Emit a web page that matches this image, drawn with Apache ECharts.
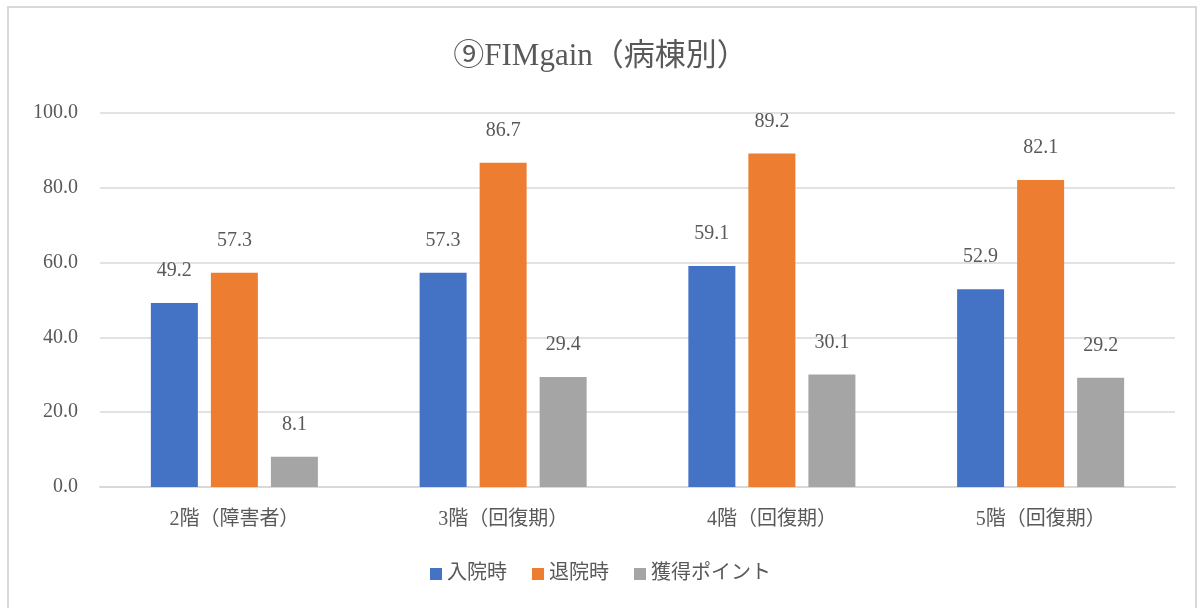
<!DOCTYPE html>
<html>
<head>
<meta charset="utf-8">
<script src="https://cdn.jsdelivr.net/npm/echarts@6/dist/echarts.min.js"></script>
<style>
	html, body { margin: 0; padding: 0; background: #fff; overflow: hidden; }
	#frame {
		position: absolute; left: 7px; top: 6px; width: 1190px; height: 620px;
		border: 2px solid #d9d9d9; box-sizing: border-box;
	}
	#main { position: absolute; left: 0; top: 0; width: 1201px; height: 608px; }
</style>
</head>
<body>
<div id="frame"></div>
<div id="main"></div>
<script>
	var categories = ["2階（障害者）", "3階（回復期）", "4階（回復期）", "5階（回復期）"];
	var admission = [49.2, 57.3, 59.1, 52.9];
	var discharge = [57.3, 86.7, 89.2, 82.1];
	var gain = [8.1, 29.4, 30.1, 29.2];
	var seriesNames = ["入院時", "退院時", "獲得ポイント"];

	var font = '"Liberation Serif", "Noto Sans CJK JP", serif';
	var textColor = "#595959";

	var chart = echarts.init(document.getElementById("main"));

	var labelStyle = {
		show: true,
		position: "top",
		distance: 22,
		color: textColor,
		fontFamily: font,
		fontSize: 20,
		formatter: function (p) {
			return p.value.toFixed(1);
		}
	};

	function makeSeries(name, data, color) {
		return {
			name: name,
			type: "bar",
			barWidth: 47,
			barGap: "27.7%",
			itemStyle: { color: color },
			label: labelStyle,
			data: data
		};
	}

	var option = {
		animation: false,
		title: {
			text: "⑨FIMgain（病棟別）",
			left: "center",
			top: 36,
			textStyle: {
				color: textColor,
				fontFamily: font,
				fontSize: 31,
				fontWeight: "normal"
			}
		},
		legend: {
			bottom: 19,
			left: "center",
			itemWidth: 12,
			itemHeight: 12,
			itemGap: 25,
			icon: "rect",
			textStyle: {
				color: textColor,
				fontFamily: font,
				fontSize: 20
			},
			data: seriesNames
		},
		grid: {
			left: 100,
			right: 26,
			top: 113,
			bottom: 121
		},
		xAxis: {
			type: "category",
			data: categories,
			axisLine: { lineStyle: { color: "#d9d9d9", width: 2 } },
			axisTick: { show: false },
			axisLabel: {
				color: textColor,
				fontFamily: font,
				fontSize: 20,
				margin: 23
			}
		},
		yAxis: {
			type: "value",
			min: 0,
			max: 100,
			interval: 20,
			axisLine: { show: false },
			axisTick: { show: false },
			splitLine: { lineStyle: { color: "#d9d9d9", width: 1.5 } },
			axisLabel: {
				color: textColor,
				fontFamily: font,
				fontSize: 20,
				margin: 22,
				formatter: function (v) {
					return v.toFixed(1);
				}
			}
		},
		series: [
			makeSeries(seriesNames[0], admission, "#4472C4"),
			makeSeries(seriesNames[1], discharge, "#ED7D31"),
			makeSeries(seriesNames[2], gain, "#A5A5A5")
		]
	};

	chart.setOption(option);
</script>
</body>
</html>
